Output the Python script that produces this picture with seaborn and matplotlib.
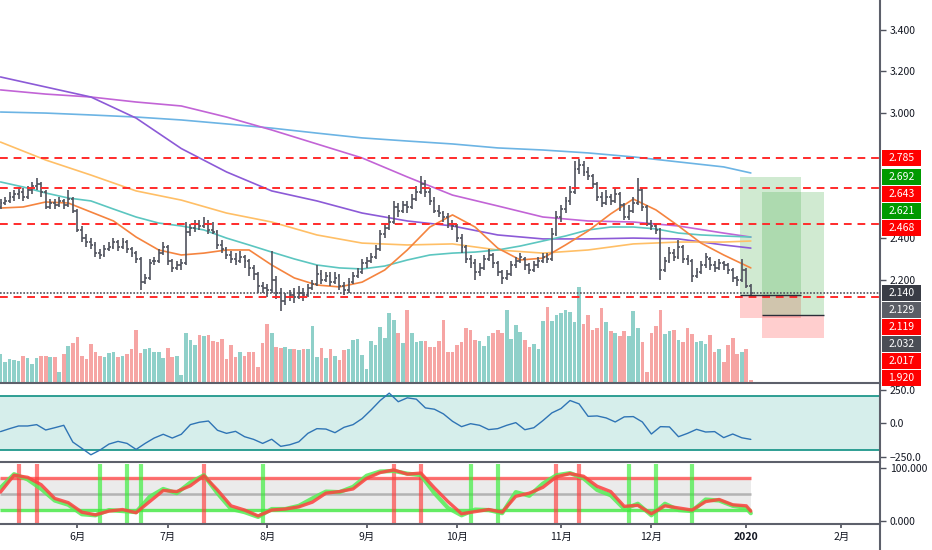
import numpy as np
import pandas as pd
import matplotlib
matplotlib.use("Agg")
import matplotlib.pyplot as plt
from matplotlib.patches import Rectangle
from matplotlib.lines import Line2D
import seaborn as sns

# daily bars, 2019-05-08 .. 2020-01-03
opens = [2.55, 2.57, 2.58, 2.60, 2.61, 2.62, 2.60, 2.63, 2.65, 2.66, 2.62, 2.55, 2.57, 2.56, 2.58, 2.56, 2.59, 2.53, 2.44, 2.40,
         2.38, 2.37, 2.33, 2.32, 2.35, 2.36, 2.38, 2.36, 2.38, 2.35, 2.33, 2.30, 2.19, 2.21,
         2.29, 2.29, 2.33, 2.36, 2.29, 2.26, 2.27, 2.28, 2.43, 2.45, 2.47, 2.46, 2.47, 2.44, 2.43, 2.37, 2.35, 2.32, 2.30, 2.29,
         2.31, 2.29, 2.26, 2.23, 2.17, 2.16, 2.15, 2.20, 2.14, 2.10, 2.12, 2.13, 2.12, 2.14, 2.13, 2.16, 2.18, 2.23, 2.20, 2.22, 2.19,
         2.22, 2.17, 2.15, 2.19, 2.22, 2.24, 2.28, 2.29, 2.31, 2.35, 2.42, 2.45, 2.48, 2.55, 2.53, 2.56, 2.55, 2.59, 2.62, 2.66,
         2.62, 2.58, 2.53, 2.52, 2.50, 2.47, 2.46, 2.40, 2.36, 2.30, 2.28, 2.24, 2.26, 2.30, 2.32, 2.28, 2.24, 2.21, 2.23, 2.27, 2.29,
         2.30, 2.27, 2.25, 2.27, 2.29, 2.31, 2.30, 2.42, 2.50, 2.54, 2.58, 2.62, 2.73, 2.75, 2.72, 2.70, 2.66, 2.60, 2.57, 2.60,
         2.58, 2.61, 2.56, 2.50, 2.53, 2.57, 2.63, 2.55, 2.47, 2.46, 2.44, 2.25, 2.29, 2.33, 2.31, 2.36, 2.30, 2.29, 2.22, 2.24, 2.27,
         2.30, 2.27, 2.26, 2.28, 2.27, 2.25, 2.21, 2.20, 2.25, 2.17]
highs = [2.59, 2.60, 2.62, 2.63, 2.64, 2.64, 2.65, 2.67, 2.69, 2.67, 2.63, 2.59, 2.59, 2.60, 2.59, 2.63, 2.60, 2.54, 2.46, 2.42,
         2.40, 2.38, 2.35, 2.37, 2.38, 2.40, 2.39, 2.40, 2.39, 2.36, 2.34, 2.31, 2.23, 2.30,
         2.31, 2.35, 2.38, 2.37, 2.30, 2.29, 2.30, 2.48, 2.47, 2.49, 2.49, 2.50, 2.49, 2.48, 2.44, 2.39, 2.36, 2.34, 2.33, 2.34,
         2.32, 2.30, 2.27, 2.24, 2.19, 2.18, 2.34, 2.22, 2.16, 2.14, 2.15, 2.16, 2.17, 2.16, 2.18, 2.20, 2.27, 2.25, 2.24, 2.24, 2.24,
         2.23, 2.19, 2.21, 2.24, 2.26, 2.30, 2.31, 2.33, 2.37, 2.44, 2.47, 2.51, 2.58, 2.57, 2.58, 2.58, 2.61, 2.65, 2.70, 2.68,
         2.64, 2.60, 2.56, 2.53, 2.52, 2.49, 2.47, 2.42, 2.37, 2.32, 2.30, 2.28, 2.32, 2.35, 2.33, 2.29, 2.25, 2.25, 2.29, 2.31, 2.33,
         2.31, 2.28, 2.29, 2.31, 2.33, 2.33, 2.45, 2.53, 2.56, 2.60, 2.65, 2.77, 2.78, 2.77, 2.74, 2.71, 2.67, 2.62, 2.63, 2.61,
         2.64, 2.62, 2.57, 2.56, 2.60, 2.69, 2.64, 2.56, 2.49, 2.47, 2.45, 2.31, 2.36, 2.35, 2.39, 2.37, 2.32, 2.30, 2.26, 2.29, 2.33,
         2.31, 2.29, 2.30, 2.29, 2.28, 2.26, 2.22, 2.30, 2.26, 2.18]
lows = [2.54, 2.56, 2.57, 2.58, 2.59, 2.58, 2.59, 2.61, 2.63, 2.60, 2.54, 2.54, 2.54, 2.55, 2.54, 2.55, 2.52, 2.43, 2.38, 2.36,
        2.35, 2.31, 2.30, 2.31, 2.34, 2.35, 2.34, 2.35, 2.33, 2.31, 2.28, 2.15, 2.18, 2.20,
        2.27, 2.28, 2.32, 2.27, 2.24, 2.25, 2.25, 2.27, 2.41, 2.43, 2.44, 2.45, 2.42, 2.42, 2.35, 2.33, 2.30, 2.28, 2.27, 2.28,
        2.26, 2.22, 2.20, 2.14, 2.14, 2.12, 2.14, 2.11, 2.05, 2.08, 2.10, 2.09, 2.11, 2.10, 2.12, 2.15, 2.17, 2.18, 2.19, 2.17, 2.18,
        2.15, 2.13, 2.14, 2.18, 2.21, 2.23, 2.26, 2.28, 2.30, 2.34, 2.40, 2.44, 2.47, 2.50, 2.52, 2.52, 2.54, 2.58, 2.61, 2.60,
        2.56, 2.52, 2.50, 2.48, 2.45, 2.44, 2.38, 2.33, 2.28, 2.26, 2.20, 2.22, 2.25, 2.29, 2.26, 2.22, 2.18, 2.20, 2.22, 2.26, 2.28,
        2.25, 2.23, 2.24, 2.26, 2.28, 2.28, 2.29, 2.41, 2.48, 2.52, 2.56, 2.61, 2.71, 2.70, 2.68, 2.64, 2.58, 2.55, 2.56, 2.56,
        2.57, 2.53, 2.49, 2.49, 2.52, 2.56, 2.53, 2.46, 2.44, 2.42, 2.20, 2.24, 2.28, 2.29, 2.30, 2.28, 2.27, 2.19, 2.21, 2.23, 2.26,
        2.25, 2.24, 2.25, 2.25, 2.23, 2.19, 2.17, 2.19, 2.16, 2.12]
closes = [2.57, 2.58, 2.60, 2.61, 2.62, 2.60, 2.63, 2.65, 2.66, 2.62, 2.55, 2.57, 2.56, 2.58, 2.56, 2.59, 2.53, 2.44, 2.40, 2.38,
          2.37, 2.33, 2.32, 2.35, 2.36, 2.38, 2.36, 2.38, 2.35, 2.33, 2.30, 2.19, 2.21, 2.28,
          2.29, 2.33, 2.36, 2.29, 2.26, 2.27, 2.28, 2.43, 2.45, 2.47, 2.46, 2.47, 2.44, 2.43, 2.37, 2.35, 2.32, 2.30, 2.29, 2.31,
          2.29, 2.26, 2.23, 2.17, 2.16, 2.15, 2.20, 2.14, 2.10, 2.12, 2.13, 2.12, 2.14, 2.13, 2.16, 2.18, 2.23, 2.20, 2.22, 2.19, 2.21,
          2.17, 2.15, 2.19, 2.22, 2.24, 2.28, 2.29, 2.31, 2.35, 2.42, 2.45, 2.48, 2.55, 2.53, 2.56, 2.55, 2.59, 2.62, 2.66, 2.62,
          2.58, 2.53, 2.52, 2.50, 2.47, 2.46, 2.40, 2.36, 2.30, 2.28, 2.24, 2.26, 2.30, 2.32, 2.28, 2.24, 2.21, 2.23, 2.27, 2.29, 2.31,
          2.27, 2.25, 2.27, 2.29, 2.31, 2.30, 2.42, 2.50, 2.54, 2.58, 2.62, 2.73, 2.75, 2.72, 2.70, 2.66, 2.60, 2.57, 2.60, 2.58,
          2.61, 2.56, 2.50, 2.53, 2.57, 2.63, 2.55, 2.47, 2.46, 2.44, 2.25, 2.29, 2.33, 2.31, 2.36, 2.30, 2.29, 2.22, 2.24, 2.27, 2.31,
          2.27, 2.26, 2.28, 2.27, 2.25, 2.21, 2.20, 2.25, 2.17, 2.14]
volume = [29, 21, 24, 23, 22, 27, 25, 19, 25, 27, 27, 26, 26, 11, 29,
          37, 40, 46, 27, 24, 39, 31, 27, 26, 30, 31, 26, 27, 29, 34, 53, 30, 34, 35, 31, 31, 25, 35, 26, 27, 8, 50, 43, 38, 48,
          47, 48, 42, 41,
          44, 24, 38, 26, 31, 27, 31, 31, 16, 40, 59, 50, 36, 35, 36, 34, 34, 33, 34, 34, 57, 26, 35, 25, 34, 27, 23, 33, 34, 43,
          44, 28, 14, 42, 38, 56, 45, 69, 63,
          50, 40, 72, 50, 41, 42, 42, 36, 36, 42, 63, 31, 31, 38, 41, 55, 53, 43, 42, 37, 47, 50, 53, 50, 72, 44, 58, 51, 43, 36,
          39, 34, 62, 75, 62, 67, 69, 72, 70, 61, 95, 59, 67, 53, 55, 74, 61, 52, 50, 47, 52, 47, 71, 55, 41, 11, 50, 57, 72,
          49, 52, 53, 43, 41, 55, 49, 41, 42, 39, 48, 31, 34, 21, 38, 45, 29, 31, 34, 3]

# moving averages (sampled every 5 / 10 bars)
ma_fast_idx = list(range(0, 165, 5)) + [166]
ma_orange = [2.545, 2.550, 2.574, 2.569, 2.526, 2.483, 2.406, 2.344, 2.320, 2.329, 2.344, 2.344, 2.272, 2.210, 2.176, 2.167,
             2.190, 2.248, 2.344, 2.454, 2.512, 2.454, 2.353, 2.296, 2.305, 2.368, 2.435, 2.517, 2.588, 2.536, 2.459, 2.377,
             2.320, 2.258]
ma_teal = [2.670, 2.646, 2.617, 2.593, 2.579, 2.540, 2.502, 2.473, 2.459, 2.440, 2.401, 2.368, 2.334, 2.301, 2.272, 2.258,
           2.253, 2.267, 2.296, 2.320, 2.329, 2.334, 2.344, 2.363, 2.387, 2.411, 2.440, 2.454, 2.454, 2.445, 2.425, 2.416,
           2.411, 2.406]
ma_slow_idx = list(range(0, 165, 10)) + [166]
ma_yellow = [2.861, 2.775, 2.703, 2.627, 2.583, 2.521, 2.478, 2.416, 2.377, 2.368, 2.373, 2.344, 2.329, 2.344, 2.373, 2.382,
             2.382, 2.387]
ma_purple = [3.173, 3.125, 3.077, 2.976, 2.830, 2.718, 2.627, 2.579, 2.521, 2.483, 2.459, 2.416, 2.397, 2.397, 2.401, 2.397,
             2.368, 2.353]
ma_magenta = [3.111, 3.091, 3.077, 3.053, 3.034, 2.981, 2.919, 2.852, 2.785, 2.694, 2.607, 2.555, 2.502, 2.483, 2.478, 2.459,
              2.425, 2.406]
ma_blue = [3.005, 3.000, 2.991, 2.981, 2.967, 2.948, 2.928, 2.904, 2.881, 2.866, 2.852, 2.833, 2.823, 2.809, 2.790, 2.766,
           2.742, 2.713]

# horizontal levels and position tools
red_levels = [2.785, 2.643, 2.468, 2.119]
last_line = 2.140
pos_start = [163.5, 168.5]
pos_len = 13.7
pos_entry = [2.129, 2.032]
pos_target = [2.692, 2.621]
pos_stop = [2.017, 1.920]

# price scale labels
label_prices = [2.785, 2.692, 2.643, 2.621, 2.468, 2.140, 2.129, 2.119, 2.032, 2.017, 1.920]
label_colors = ["#ff0000", "#009a00", "#ff0000", "#009a00", "#ff0000", "#393c45", "#5b5e66", "#ff0000", "#4a4d55",
                "#ff0000", "#ff0000"]

# CCI (every 2 bars)
cci_idx = list(range(0, 167, 2))
cci = [-62, -40, -20, -20, -10, -50, -33, -15, -140, -187, -235, -200, -155, -135, -150, -195, -150, -110, -82, -110,
       -82, -10, 8, 17, -52, -75, -60, -100, -120, -150, -119, -172, -160, -138, -75, -40, -43, -70, -30, -10,
       35, 100, 170, 225, 161, 190, 180, 115, 105, 70, 15, -25, -3, -15, -47, -40, -15, 5, -48, -33,
       20, 78, 110, 170, 145, 52, 55, 40, 10, 48, 50, 10, -80, -25, -27, -100, -75, -45, -65, -62,
       -107, -80, -108, -120]

# stochastic (every 3 bars)
stoch_idx = list(range(0, 166, 3)) + [166]
stoch_k = [62, 88, 78, 60, 38, 30, 12, 10, 20, 18, 16, 45, 60, 52, 72, 86, 52, 22, 16, 7,
           22, 22, 28, 42, 55, 54, 64, 85, 93, 94, 89, 86, 52, 24, 10, 21, 20, 14, 54, 47,
           70, 86, 90, 80, 58, 48, 22, 32, 10, 32, 20, 18, 40, 38, 28, 24, 14]
stoch_d = [54, 86, 82, 68, 42, 34, 16, 11, 18, 21, 15, 36, 57, 55, 66, 85, 58, 28, 20, 9,
           20, 22, 26, 35, 52, 55, 60, 80, 91, 96, 88, 90, 62, 36, 13, 17, 21, 16, 46, 52,
           63, 83, 89, 84, 65, 55, 27, 29, 13, 28, 24, 20, 36, 40, 30, 28, 18]
sell_bars = [4, 8, 45, 87, 93, 123, 128]
buy_bars = [22, 28, 31, 58, 104, 110, 139, 145, 153]

holidays = ["2019-05-27", "2019-07-04", "2019-09-02", "2019-11-28", "2019-12-25", "2020-01-01", "2020-01-20",
            "2020-02-17"]

sns.set_theme(style="white")
plt.rcParams["font.family"] = ["Noto Sans CJK SC", "DejaVu Sans"]

W, H = 932, 550
fig = plt.figure(figsize=(W / 100, H / 100), dpi=100)
AXR = 880  # right edge of the plotting area, px


def panel(top, bottom, **kw):
    return fig.add_axes([0, 1 - bottom / H, AXR / W, (bottom - top) / H], **kw)


ax_p = panel(0, 383)
ax_v = ax_p.twinx()
ax_c = panel(385, 462, sharex=ax_p)
ax_s = panel(464, 524, sharex=ax_p)
ax_p.set_zorder(ax_v.get_zorder() + 1)
ax_p.patch.set_visible(False)

n = len(closes)
x = np.arange(n)
o, h, l, c = map(np.array, (opens, highs, lows, closes))

# volume
up = c >= o
vol_colors = np.where(up, "#8fd0c9", "#f6a5a4")
ax_v.bar(x, volume, width=0.8, color=vol_colors, linewidth=0)
ax_v.set_ylim(0, max(volume) * 4.0)
ax_v.axis("off")

# OHLC bars
bar_col = "#50535e"
ax_p.vlines(x, l, h, color=bar_col, lw=1.2, zorder=3)
ax_p.hlines(o, x - 0.42, x, color=bar_col, lw=1.2, zorder=3)
ax_p.hlines(c, x, x + 0.42, color=bar_col, lw=1.2, zorder=3)

# moving averages
for idx, vals, col in [(ma_slow_idx, ma_blue, "#6cb4e4"), (ma_slow_idx, ma_magenta, "#c264d6"),
                       (ma_slow_idx, ma_purple, "#8c5ad7"), (ma_slow_idx, ma_yellow, "#ffbf66"),
                       (ma_fast_idx, ma_teal, "#5cc6c0"), (ma_fast_idx, ma_orange, "#f5843f")]:
    sns.lineplot(x=idx, y=vals, ax=ax_p, color=col, linewidth=1.2, zorder=2)

for lv in red_levels:
    ax_p.axhline(lv, color="#ff2b2b", ls=(0, (4, 3)), lw=1.4, zorder=4)
ax_p.axhline(last_line, color="#50535e", ls=(0, (1, 1)), lw=1.2, zorder=4)

# long position tools
for s0, en, tg, st in zip(pos_start, pos_entry, pos_target, pos_stop):
    ax_p.add_patch(Rectangle((s0, en), pos_len, tg - en, facecolor="#4caf50", alpha=0.26, lw=0, zorder=1))
    ax_p.add_patch(Rectangle((s0, st), pos_len, en - st, facecolor="#ff5252", alpha=0.28, lw=0, zorder=1))
    ax_p.hlines(en, s0, s0 + pos_len, color="#2a2e39", lw=1.0, zorder=4)

ppb, x0 = 4.52, 0.5  # px per bar, first bar px
xlim = (-x0 / ppb, (AXR - x0) / ppb)
ax_p.set_xlim(*xlim)
ax_p.set_ylim(1.7066, 3.5418)

# stacked price labels on the right scale (positions in px from top)
label_y = []
prev = -1e9
for p in label_prices:
    yy = max(H - ax_p.transData.transform((0, p))[1], prev + 17)
    label_y.append(yy)
    prev = yy

# regular price ticks, except those hidden behind a label box
ticks = []
for v in np.arange(2.0, 3.41, 0.2):
    ty = H - ax_p.transData.transform((0, v))[1]
    if all(abs(ty - yy) > 8 for yy in label_y):
        ticks.append(v)
ax_p.set_yticks(ticks)
ax_p.set_yticklabels([f"{v:.3f}" for v in ticks])

# CCI panel
ax_c.axhspan(-200, 200, color="#d6eeeb", lw=0)
for lv in (200, -200):
    ax_c.axhline(lv, color="#1f978b", lw=1.3)
sns.lineplot(x=cci_idx, y=cci, ax=ax_c, color="#2f74b5", linewidth=1.0)
ax_c.set_ylim(-288.8, 285.8)
ax_c.set_yticks([-250, 0, 250])
ax_c.set_yticklabels(["\u2212250.0", "0.0", "250.0"])

# stochastic panel
last = n - 1
ax_s.fill_between([xlim[0], last], 20, 80, color="#ebebeb", lw=0)
ax_s.hlines(80, xlim[0], last, color="#ff4d4d", lw=2.4, alpha=0.8)
ax_s.hlines(50, xlim[0], last, color="#b3b3b3", lw=1.8)
ax_s.hlines(20, xlim[0], last, color="#3ee83e", lw=2.4, alpha=0.8)
for b in sell_bars:
    ax_s.axvline(b, color="#ff3b3b", lw=3, alpha=0.65)
for b in buy_bars:
    ax_s.axvline(b, color="#33ee33", lw=3, alpha=0.65)
sns.lineplot(x=stoch_idx, y=stoch_k, ax=ax_s, color="#55ee55", linewidth=3, alpha=0.85)
sns.lineplot(x=stoch_idx, y=stoch_d, ax=ax_s, color="#ff4040", linewidth=2.4, alpha=0.85)
ax_s.set_ylim(-6.4, 107.2)
ax_s.set_yticks([0, 100])
ax_s.set_yticklabels(["0.000", "100.000"])

# month ticks from the trading calendar
cal = pd.bdate_range("2019-05-08", "2020-02-28", freq="C", holidays=holidays)
pos = pd.Series(np.arange(len(cal)), index=cal)
firsts = pos.groupby([cal.year, cal.month]).min().iloc[1:]
tick_labels = [str(y) if m == 1 else f"{m}月" for (y, m) in firsts.index]
ax_s.set_xticks(firsts.values)
ax_s.set_xticklabels(tick_labels)
for t in ax_s.get_xticklabels():
    if t.get_text() == "2020":
        t.set_fontweight("bold")

for ax in (ax_p, ax_c, ax_s):
    ax.set_xlabel("")
    ax.set_ylabel("")
    ax.yaxis.tick_right()
    ax.tick_params(axis="y", right=True, left=False, length=4, width=1, color="#50535e",
                   labelsize=7.5, labelcolor="#131722", pad=3)
    for side in ("top", "left", "right"):
        ax.spines[side].set_visible(False)
    ax.spines["bottom"].set_color("#5d606b")
    ax.spines["bottom"].set_linewidth(1.5)
ax_p.tick_params(axis="x", bottom=False, labelbottom=False)
ax_c.tick_params(axis="x", bottom=False, labelbottom=False)
ax_s.tick_params(axis="x", bottom=True, length=3, color="#50535e", labelsize=7.5, labelcolor="#131722", pad=3)

fig.add_artist(Line2D([AXR / W, AXR / W], [0, 1], transform=fig.transFigure, color="#5d606b", lw=1.5))

for p, col, yy in zip(label_prices, label_colors, label_y):
    fig.add_artist(Rectangle(((AXR + 2) / W, 1 - (yy + 8) / H), 39 / W, 16 / H, transform=fig.transFigure,
                             facecolor=col, edgecolor="none", zorder=10))
    fig.text((AXR + 21.5) / W, 1 - yy / H, f"{p:.3f}", color="white", fontsize=7.5, ha="center", va="center",
             zorder=11)

fig.savefig("out.png", dpi=100)
